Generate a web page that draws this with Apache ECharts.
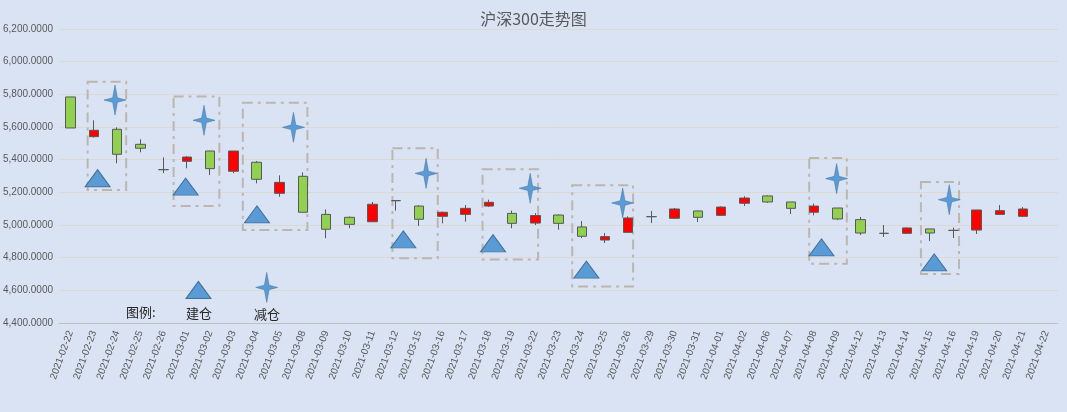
<!DOCTYPE html>
<html>
<head>
<meta charset="utf-8">
<script src="https://cdn.jsdelivr.net/npm/echarts@6/dist/echarts.min.js"></script>
<style>
html, body { margin: 0; padding: 0; background: #dae3f3; }
#main { width: 1067px; height: 412px; }
</style>
</head>
<body>
<div id="main"></div>
<script>
const dates = ['2021-02-22','2021-02-23','2021-02-24','2021-02-25','2021-02-26','2021-03-01','2021-03-02','2021-03-03','2021-03-04','2021-03-05',
    '2021-03-08','2021-03-09','2021-03-10','2021-03-11','2021-03-12','2021-03-15','2021-03-16','2021-03-17','2021-03-18','2021-03-19',
    '2021-03-22','2021-03-23','2021-03-24','2021-03-25','2021-03-26','2021-03-29','2021-03-30','2021-03-31','2021-04-01','2021-04-02',
    '2021-04-06','2021-04-07','2021-04-08','2021-04-09','2021-04-12','2021-04-13','2021-04-14','2021-04-15','2021-04-16','2021-04-19',
    '2021-04-20','2021-04-21','2021-04-22'];

// [open, close, low, high]
const kData = [
    [5784, 5594, 5594, 5784], [5541, 5580, 5535, 5641], [5586, 5433, 5378, 5598], [5494, 5470, 5445, 5525],
    [5339, 5339, 5317, 5414], [5390, 5416, 5347, 5422], [5453, 5345, 5306, 5453], [5329, 5453, 5317, 5453],
    [5384, 5280, 5255, 5392], [5194, 5261, 5173, 5304], [5298, 5078, 5078, 5322], [5065, 4974, 4919, 5096],
    [5047, 5004, 4980, 5052], [5020, 5127, 5020, 5141], [5149, 5149, 5088, 5152], [5116, 5035, 4994, 5122],
    [5053, 5078, 5010, 5082], [5065, 5102, 5020, 5122], [5116, 5139, 5110, 5155], [5071, 5010, 4980, 5088],
    [5012, 5058, 5000, 5073], [5061, 5010, 4971, 5065], [4988, 4931, 4920, 5024], [4908, 4929, 4890, 4951],
    [4955, 5043, 4955, 5053], [5051, 5051, 5012, 5086], [5041, 5098, 5037, 5104], [5086, 5047, 5018, 5088],
    [5059, 5110, 5057, 5114], [5133, 5165, 5116, 5176], [5178, 5141, 5135, 5182], [5141, 5102, 5067, 5141],
    [5078, 5116, 5059, 5131], [5104, 5037, 5030, 5104], [5033, 4951, 4939, 5049], [4949, 4949, 4927, 5000],
    [4949, 4982, 4945, 4986], [4976, 4951, 4902, 4976], [4967, 4967, 4920, 4984], [4969, 5092, 4945, 5092],
    [5065, 5088, 5061, 5122], [5053, 5098, 5049, 5110], '-'
];

// 建仓 / 减仓 markers: [category position, value]
const buyPoints = [[1.16, 5286], [4.95, 5235], [8.02, 5065], [14.32, 4912], [18.18, 4888], [22.2, 4727], [32.32, 4863], [37.17, 4771]];
const sellPoints = [[1.91, 5765], [5.74, 5641], [9.59, 5598], [15.3, 5316], [19.78, 5225], [23.76, 5135], [32.97, 5284], [37.82, 5155]];
const legendBuy = [[5.5, 4602]];
const legendSell = [[8.44, 4618]];

// dashed boxes: [x0, x1, yTop, yBottom]
const boxes = [
    [0.73, 2.39, 5877, 5214], [4.43, 6.40, 5786, 5116], [7.41, 10.19, 5749, 4969], [13.85, 15.8, 5470, 4796],
    [17.73, 20.12, 5341, 4789], [21.59, 24.21, 5243, 4624], [31.79, 33.41, 5410, 4763], [36.6, 38.24, 5263, 4700]
];

const chart = echarts.init(document.getElementById('main'));
const starPath = 'path://M0,-10 L1.5,-1.5 L7,0 L1.5,1.5 L0,10 L-1.5,1.5 L-7,0 L-1.5,-1.5 Z';

chart.setOption({
    backgroundColor: '#dae3f3',
    title: {
        text: '沪深300走势图',
        left: 'center',
        top: 6,
        textStyle: { fontSize: 16, fontWeight: 'normal', color: '#595959', fontFamily: 'Noto Sans CJK SC' }
    },
    grid: { left: 59, right: 9, top: 29, bottom: 89 },
    xAxis: [{
        type: 'category',
        data: dates,
        axisLine: { lineStyle: { color: '#bfbfbf' } },
        axisTick: { lineStyle: { color: '#bfbfbf' } },
        axisLabel: { rotate: 70, fontSize: 10, color: '#595959', interval: 0 }
    }, {
        type: 'value', min: -0.5, max: dates.length - 0.5, show: false
    }],
    yAxis: {
        type: 'value',
        min: 4400, max: 6200, interval: 200,
        axisLine: { show: false },
        axisTick: { show: false },
        splitLine: { lineStyle: { color: '#dcd8d2' } },
        axisLabel: {
            fontSize: 10, color: '#595959', margin: 6,
            formatter: v => v.toLocaleString('en-US', { minimumFractionDigits: 4 })
        }
    },
    series: [
        {
            type: 'candlestick',
            data: kData,
            barWidth: 10,
            itemStyle: {
                color: '#ff0000', color0: '#92d050',
                borderColor: '#595959', borderColor0: '#595959', borderWidth: 1
            }
        },
        {
            type: 'custom',
            xAxisIndex: 1,
            data: boxes,
            silent: true,
            renderItem: (params, api) => {
                const p0 = api.coord([api.value(0), api.value(2)]);
                const p1 = api.coord([api.value(1), api.value(3)]);
                return {
                    type: 'rect',
                    shape: { x: p0[0], y: p0[1], width: p1[0] - p0[0], height: p1[1] - p0[1] },
                    style: { fill: null, stroke: '#bcb6b0', lineWidth: 2, lineDash: [10, 5, 3, 5] }
                };
            }
        },
        {
            type: 'scatter', xAxisIndex: 1,
            data: buyPoints.concat(legendBuy),
            symbol: 'triangle', symbolSize: [25, 17],
            itemStyle: { color: '#5b9bd5', borderColor: '#41719c', borderWidth: 1, opacity: 1 }
        },
        {
            type: 'scatter', xAxisIndex: 1,
            data: sellPoints.concat(legendSell),
            symbol: starPath, symbolSize: [22, 30],
            itemStyle: { color: '#5b9bd5', borderColor: '#41719c', borderWidth: 0.5, opacity: 1 }
        }
    ],
    graphic: [
        { type: 'text', left: 126, top: 306, style: { text: '图例:', fill: '#262626', font: '13px "Noto Sans CJK SC"' } },
        { type: 'text', left: 186, top: 307, style: { text: '建仓', fill: '#262626', font: '13px "Noto Sans CJK SC"' } },
        { type: 'text', left: 254, top: 308, style: { text: '减仓', fill: '#262626', font: '13px "Noto Sans CJK SC"' } }
    ]
});
</script>
</body>
</html>
